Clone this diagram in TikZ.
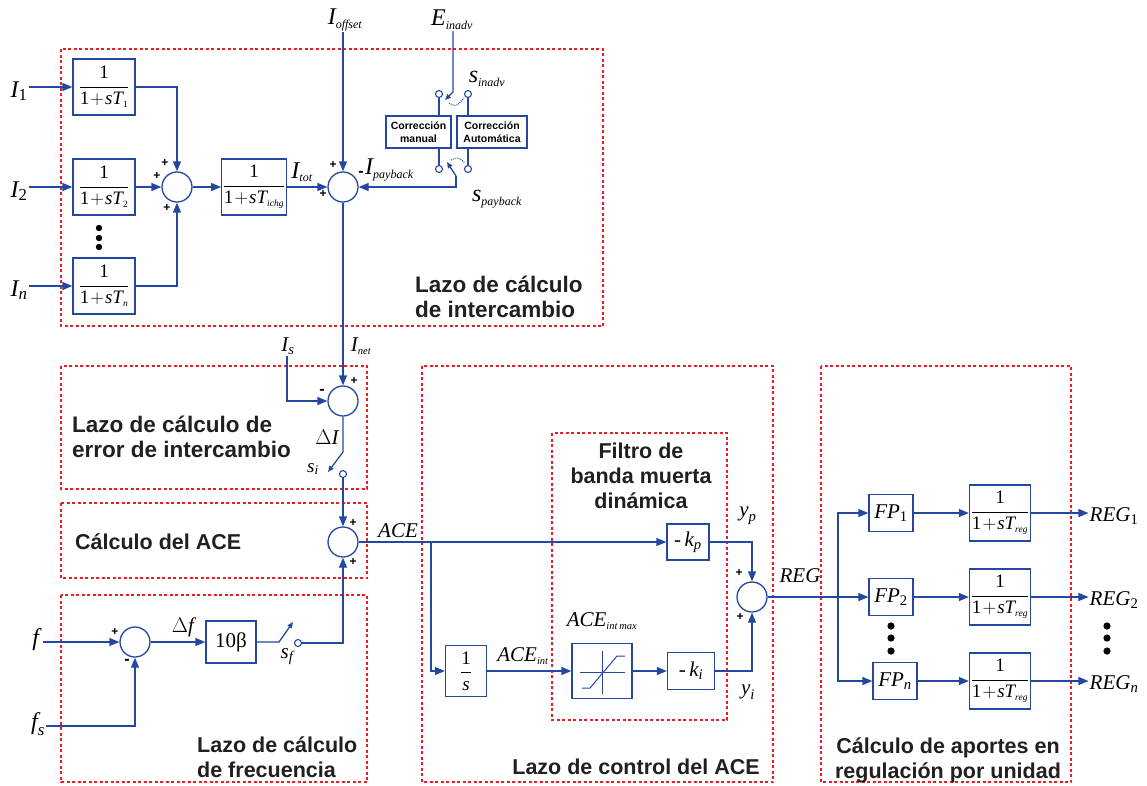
\documentclass[tikz,border=0pt]{standalone}
\usepackage{fix-cm}
\usepackage{amsmath}
\usepackage{fontspec}
\setmainfont{Liberation Serif}
\setsansfont{Liberation Sans}
\usetikzlibrary{positioning,calc,arrows.meta}
\definecolor{azul}{RGB}{36,72,160}
\definecolor{rojo}{RGB}{236,28,36}
\definecolor{tinta}{RGB}{35,31,32}
\newcommand{\fsen}{\fontsize{21}{24}\selectfont}
\newcommand{\fbig}{\fontsize{24}{27}\selectfont}
\newcommand{\ffrac}{\fontsize{19}{22}\selectfont}
\newcommand{\ftit}{\sffamily\bfseries\fontsize{21.5}{25}\selectfont}
\newcommand{\ftitg}{\sffamily\bfseries\fontsize{22.5}{24.5}\selectfont}
\newcommand{\fsig}{\sffamily\bfseries\fontsize{12}{12}\selectfont}
\newcommand{\fcaja}{\sffamily\bfseries\fontsize{10.5}{12.5}\selectfont}
% variable con subindice corto / subindice de palabra
\newcommand{\vs}[2]{$\textit{#1}_{\textit{#2}}$}
\newcommand{\vw}[2]{$\textit{#1}_{\scriptscriptstyle\textit{#2}}$}
\newcommand{\tfr}[1]{$\dfrac{\text{1}}{\text{1}\!+\!\textit{sT}_{\scriptscriptstyle #1}}$}
\tikzset{
  con/.style={draw=azul, line width=1.3pt},
  sw/.style={con, -{Triangle[length=6pt,width=5pt]}},
  blk/.style={draw=azul, line width=1.3pt, fill=white, inner sep=1pt, text=black},
  sumc/.style={circle, draw=azul, line width=1.3pt, minimum size=30pt, inner sep=0pt},
  term/.style={circle, draw=azul, line width=1.1pt, fill=white, minimum size=7pt, inner sep=0pt},
  zona/.style={draw=rojo, line width=1.3pt, dash pattern=on 3pt off 2.5pt},
  tit/.style={font=\ftit, text=tinta, inner sep=0pt},
  lab/.style={font=\fsen, inner sep=1pt},
  labg/.style={font=\fbig, inner sep=1pt},
  sig/.style={font=\fsig, inner sep=0pt},
  menos/.style={font=\sffamily\bfseries\fontsize{16}{16}\selectfont, inner sep=0pt},
  caja/.style={blk, font=\fcaja, align=center, minimum height=32pt, inner sep=2pt},
}

\begin{document}
\begin{tikzpicture}[x=1pt, y=-1pt, >={Triangle[length=10pt,width=8pt]}]
  \useasboundingbox (0,0) rectangle (1147,785);
  \draw[zona] (61,49) rectangle (603,326);
  \draw[zona] (61,366) rectangle (367,489);
  \draw[zona] (61,503) rectangle (367,578);
  \draw[zona] (61,595) rectangle (367,782);
  \draw[zona] (422,366) rectangle (773,782);
  \draw[zona] (552,433) rectangle (727,720);
  \draw[zona] (821,366) rectangle (1071,782);

  % lazo de intercambio
  \foreach \n/\y/\sb in {1/87/\textup{1}, 2/187/\textup{2}, n/286/n} {
    \node[blk, minimum width=62pt, minimum height=56pt, font=\ffrac] (g\n) at (104,\y) {\tfr{\textit{\sb}}};
    \node[labg] (in\n) at (19,\y+4) {\vs{I}{\sb}};
    \draw[->, con] (in\n.east |- g\n) -- (g\n.west);
  }
  \foreach \y in {228,238,247} \fill (99,\y) circle (3.2pt);
  \node[sumc] (s1) at (177,187) {};
  \node[blk, minimum width=62pt, minimum height=56pt, font=\ffrac] (gt) at (254,187) {\tfr{\textit{ichg}}};
  \node[sumc] (s2) at (343,187) {};
  \draw[->, con] (g1.east) -| (s1.north);
  \draw[->, con] (g2.east) -- (s1.west);
  \draw[->, con] (gn.east) -| (s1.south);
  \draw[->, con] (s1.east) -- (gt.west);
  \draw[->, con] (gt.east) -- (s2.west);
  \node[labg] (itot) at (302,172) {\vw{I}{tot}};
  \node[sig] at (165,163) {+};
  \node[sig] at (157,176) {+};
  \node[sig] at (167,208) {+};
  \node[sig] at (333,165) {+};
  \node[sig] at (323,194) {+};
  \node[menos] at (361,174) {-};

  \node[labg] (ioff) at (345,20) {\vw{I}{offset}};
  \draw[->, con] (s2 |- ioff.south) -- (s2.north);
  \node[labg] (einadv) at (452,20) {\vw{E}{inadv}};
  \node[caja, minimum width=65pt] (cm) at (418.5,132) {Corrección\\manual};
  \node[caja, minimum width=70pt] (ca) at (492,132) {Corrección\\Automática};
  \node[term] (t1) at (439,94) {};
  \node[term] (t2) at (468,94) {};
  \node[term] (t3) at (439,169) {};
  \node[term] (t4) at (468,169) {};
  \draw[con] (t1.south) -- (t1.south |- cm.north);
  \draw[con] (t2.south) -- (t2.south |- ca.north);
  \draw[con] (t3.north |- cm.south) -- (t3.north);
  \draw[con] (t4.north |- ca.south) -- (t4.north);
  \coordinate (e1) at (453,92);
  \coordinate (sw1) at (445,100);
  \draw[sw] (einadv.south -| e1) -- (e1) -- (sw1);
  \draw[con, line width=1pt, densely dotted] (449,103) .. controls (456,107) .. (464,98);
  \coordinate (pb) at (456,176);
  \coordinate (sw2) at (447,162);
  \draw[->, con] (pb) -- (pb |- s2) -- (s2.east);
  \draw[sw] (pb) -- (sw2);
  \draw[con, line width=1pt, densely dotted] (451,160) .. controls (458,157) .. (465,163);
  \node[labg] (sinadv) at (487,79) {\vw{s}{inadv}};
  \node[labg] (spay) at (497,199) {\vw{s}{payback}};
  \node[labg, anchor=west] (ipay) at (364,170) {\vw{I}{payback}};
  \node[tit, font=\ftitg, anchor=west, align=left] at (415,297) {Lazo de cálculo\\de intercambio};

  % error de intercambio y ACE
  \node[lab] (isl) at (288,346) {\vs{I}{s}};
  \node[lab] (inet) at (361,346) {\vw{I}{net}};
  \node[sumc] (s3) at (343,401) {};
  \draw[->, con] (s2.south) -- (s3.north);
  \draw[->, con] (isl.south -| 287,0) |- (s3.west);
  \node[menos] at (322,392) {-};
  \node[sig] at (354,381) {+};
  \node[lab] (dil) at (327,437) {$\Delta\textit{I}$};
  \coordinate (d1) at (343,452);
  \coordinate (sw3) at (328,472);
  \draw[sw] (s3.south) -- (d1) -- (sw3);
  \node[term] (ti) at (343,474) {};
  \node[lab, font=\fontsize{19}{22}\selectfont] (sil) at (313,469) {\vs{s}{i}};
  \node[sumc] (s4) at (343,542) {};
  \draw[->, con] (ti.south) -- (s4.north);
  \node[sig] at (353,523) {+};
  \node[sig] at (353,562) {+};
  \node[tit, font=\ftitg, anchor=west, align=left] at (72,437) {Lazo de cálculo de\\error de intercambio};
  \node[tit, anchor=west] at (75,542) {Cálculo del ACE};

  % frecuencia
  \node[labg] (fl) at (37,640) {\textit{f}};
  \node[labg] (fsl) at (38,724) {\vs{f}{s}};
  \node[sumc] (s5) at (135,642) {};
  \node[blk, minimum width=50pt, minimum height=42pt, font=\fsen] (b10) at (231,642) {10β};
  \draw[->, con] (fl.east |- s5) -- (s5.west);
  \draw[->, con] (fsl.east |- 0,726) -| (s5.south);
  \draw[->, con] (s5.east) -- (b10.west);
  \node[lab] (dfl) at (183,627) {$\Delta\textit{f}$};
  \node[sig] at (115,632) {+};
  \node[menos] at (127,662) {-};
  \coordinate (f1) at (279,642);
  \coordinate (sw4) at (293,622);
  \draw[sw] (b10.east) -- (f1) -- (sw4);
  \node[term] (tf) at (298,643) {};
  \draw[->, con] (tf.east) -| (s4.south);
  \node[lab] (sfl) at (287,657) {\vs{s}{f}};
  \node[tit, anchor=west, align=left] at (197,757) {Lazo de cálculo\\de frecuencia};

  % lazo de control del ACE
  \node[lab] (acel) at (398,531) {\textit{ACE}};
  \node[blk, minimum width=42pt, minimum height=36pt, font=\fsen] (kp) at (688,542) {-\,\vs{k}{p}};
  \coordinate (br) at (431,542);
  \draw[->, con] (s4.east) -- (kp.west);
  \node[blk, minimum width=41pt, minimum height=51pt, font=\ffrac] (int) at (466,671) {$\dfrac{\text{1}}{\textit{s}}$};
  \draw[->, con] (br) |- (int.west);
  \node[blk, minimum width=60pt, minimum height=55pt] (lim) at (602,671) {};
  \draw[con, line width=1pt] ($(lim)+(-22,1)$) -- ($(lim)+(23,1)$);
  \draw[con, line width=1pt] ($(lim)+(0,-20)$) -- ($(lim)+(0,23)$);
  \draw[con, line width=1pt] ($(lim)+(-20,17)$) -- ($(lim)+(-12,17)$) -- ($(lim)+(15,-15)$) -- ($(lim)+(23,-15)$);
  \node[blk, minimum width=47pt, minimum height=37pt, font=\fsen] (ki) at (691,671) {-\,\vs{k}{i}};
  \draw[->, con] (int.east) -- (lim.west);
  \draw[->, con] (lim.east) -- (ki.west);
  \node[lab] (aceint) at (523,656) {\vw{ACE}{int}};
  \node[lab] (acemax) at (602,621) {\vw{ACE}{int\,max}};
  \node[sumc] (s6) at (752,597) {};
  \draw[->, con] (kp.east) -| (s6.north);
  \draw[->, con] (ki.east) -| (s6.south);
  \node[lab] (ypl) at (748,516) {\vs{y}{p}};
  \node[lab] (yil) at (748,692) {\vs{y}{i}};
  \node[sig] at (739,573) {+};
  \node[sig] at (740,617) {+};
  \node[lab] (regl) at (800,576) {\textit{REG}};
  \node[tit, align=center] at (641,476) {Filtro de\\banda muerta\\dinámica};
  \node[tit] at (636,767) {Lazo de control del ACE};

  % aportes por unidad
  \foreach \n/\y/\xf/\sb in {1/513/891/\textup{1}, 2/597/891/\textup{2}, n/681/895/n} {
    \node[blk, minimum width=44pt, minimum height=37pt, font=\fsen] (fp\n) at (\xf,\y) {\vs{FP}{\sb}};
    \node[blk, minimum width=61pt, minimum height=56pt, font=\ffrac] (tr\n) at (1000,\y) {\tfr{\textit{reg}}};
    \node[lab] (reg\n) at (1114,\y+3) {\vs{REG}{\sb}};
    \draw[->, con] (fp\n.east) -- (fp\n.east -| tr\n.west);
    \draw[->, con] (tr\n.east) -- (tr\n.east -| reg\n.west);
  }
  \coordinate (br2) at (838,597);
  \draw[->, con] (s6.east) -- (fp2.west);
  \draw[->, con] (br2) |- (fp1.west);
  \draw[->, con] (br2) |- (fpn.west);
  \foreach \y in {626,638,651} {
    \fill (891,\y) circle (3.6pt);
    \fill (1107,\y) circle (3.6pt);
  }
  \node[tit, align=center] at (948,760) {Cálculo de aportes en\\regulación por unidad};
\end{tikzpicture}
\end{document}
